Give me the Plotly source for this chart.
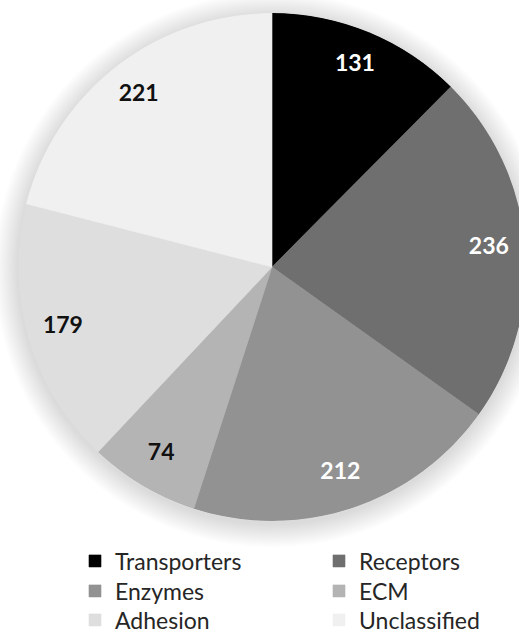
import numpy as np
import plotly.graph_objects as go

# Protein classes and their counts
categories = ["Transporters", "Receptors", "Enzymes", "ECM", "Adhesion", "Unclassified"]
counts = [131, 236, 212, 74, 179, 221]
colors = ["#000000", "#6f6f6f", "#929292", "#b4b4b4", "#dedede", "#f0f0f0"]
label_colors = ["#ffffff", "#ffffff", "#ffffff", "#111111", "#111111", "#111111"]

# Figure geometry (pixels); the canvas is a bit wider than the view so the
# disc can run past the right edge
W, H = 600, 633
CX, CY, R = 272, 267, 254

vals = np.array(counts, dtype=float)
spans = vals / vals.sum() * 360.0
starts = np.concatenate([[0.0], np.cumsum(spans)[:-1]])
mids = starts + spans / 2.0

# Legend laid out in three rows of two entries
legend_rows = ["legend", "legend2", "legend3"]
row_centers = [561, 591, 620]

fig = go.Figure()

# Slices, one trace per class so each gets a legend entry
for i, (name, th, sp, col) in enumerate(zip(categories, mids, spans, colors)):
    fig.add_trace(go.Barpolar(
        r=[1.0], theta=[th], width=[sp], base=0,
        name=name,
        legend=legend_rows[i // 2],
        marker=dict(color=col, line=dict(color=col, width=0.6)),
        hoverinfo="skip",
    ))

# Value labels placed along each slice's mid angle
fig.add_trace(go.Scatterpolar(
    r=[0.857] * len(counts), theta=mids,
    mode="text",
    text=[str(c) for c in counts],
    textfont=dict(family="Lato", size=23, color=label_colors, weight="bold"),
    showlegend=False, hoverinfo="skip",
))

# Soft glow around the disc
shapes = []
n_layers = 18
for i in range(1, n_layers + 1):
    rr = R + 1.3 * i
    cy = CY + 3
    shapes.append(dict(
        type="circle", xref="paper", yref="paper", layer="below",
        x0=(CX - rr) / W, x1=(CX + rr) / W,
        y0=1 - (cy + rr) / H, y1=1 - (cy - rr) / H,
        fillcolor="rgba(0,0,0,0.009)", line=dict(width=0),
    ))

legend_style = dict(
    orientation="h",
    x=75 / W, xanchor="left",
    yanchor="middle",
    entrywidth=199, entrywidthmode="pixels",
    font=dict(family="Lato", size=23, color="#262626"),
    bgcolor="rgba(0,0,0,0)",
    traceorder="normal",
)

fig.update_layout(
    width=W, height=H,
    margin=dict(l=0, r=0, t=0, b=0, autoexpand=False),
    paper_bgcolor="#ffffff",
    plot_bgcolor="#ffffff",
    shapes=shapes,
    polar=dict(
        domain=dict(x=[(CX - R) / W, (CX + R) / W],
                    y=[1 - (CY + R) / H, 1 - (CY - R) / H]),
        bgcolor="rgba(0,0,0,0)",
        radialaxis=dict(visible=False, range=[0, 1]),
        angularaxis=dict(visible=False, rotation=90, direction="clockwise"),
    ),
    legend=dict(legend_style, y=1 - row_centers[0] / H),
    legend2=dict(legend_style, y=1 - row_centers[1] / H),
    legend3=dict(legend_style, y=1 - row_centers[2] / H),
    showlegend=True,
)

fig.write_html(
    "out.html",
    post_script=(
        "document.documentElement.style.overflow='hidden';"
        "document.body.style.overflow='hidden';"
        "document.body.style.margin='0';"
    ),
)
